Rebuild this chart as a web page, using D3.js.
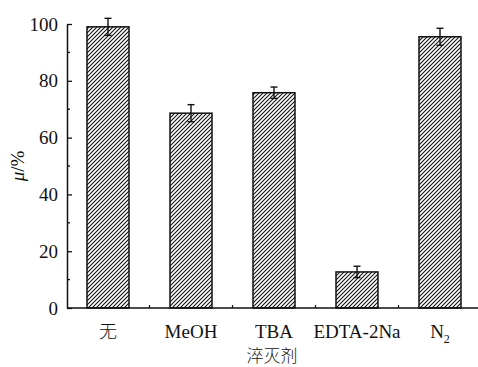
<!DOCTYPE html>
<html>
<head>
<meta charset="utf-8">
<script src="https://cdn.jsdelivr.net/npm/d3@7"></script>
<style>
  html, body { margin: 0; padding: 0; background: #fff; }
  svg { display: block; }
</style>
</head>
<body>
<svg id="chart" width="478" height="367"></svg>
<script>
// Quenching experiment: removal efficiency with each scavenger
const categories = ["无", "MeOH", "TBA", "EDTA-2Na", "N2"];
const values = [99, 68.6, 75.8, 12.7, 95.5];
const errors = [3, 3, 2, 2, 3];
const majorTicks = [0, 20, 40, 60, 80, 100];
const minorTicks = [10, 30, 50, 70, 90];
const xTitle = "淬灭剂";

const SERIF = "Liberation Serif";
const CJK = "Noto Sans CJK SC";
const INK = "#111";

const W = 478, H = 367;
const margin = { left: 67, top: 24, bottom: 59 };
const svg = d3.select("#chart");

const x = d3.scaleBand()
  .domain(categories)
  .range([margin.left - 0.5, margin.left - 0.5 + 83 * categories.length])
  .paddingInner(0.494)
  .paddingOuter(0.247);

const y = d3.scaleLinear()
  .domain([0, 100])
  .range([H - margin.bottom, margin.top]);

// diagonal hatch fill for the bars
const defs = svg.append("defs");
const pat = defs.append("pattern")
  .attr("id", "hatch")
  .attr("patternUnits", "userSpaceOnUse")
  .attr("width", 4)
  .attr("height", 4);
pat.append("rect").attr("width", 4).attr("height", 4).attr("fill", "#fff");
pat.append("path")
  .attr("d", "M-1,1 L1,-1 M0,4 L4,0 M3,5 L5,3")
  .attr("stroke", INK)
  .attr("stroke-width", 1.1);

// bars
svg.append("g").selectAll("rect")
  .data(categories)
  .join("rect")
  .attr("x", d => x(d))
  .attr("width", x.bandwidth())
  .attr("y", (d, i) => y(values[i]))
  .attr("height", (d, i) => y(0) - y(values[i]))
  .attr("fill", "url(#hatch)")
  .attr("stroke", INK)
  .attr("stroke-width", 1.5);

// error bars
const eb = svg.append("g").attr("stroke", INK).attr("stroke-width", 1.4);
categories.forEach((c, i) => {
  const cx = x(c) + x.bandwidth() / 2;
  const top = y(values[i] + errors[i]);
  const bot = y(values[i] - errors[i]);
  eb.append("line").attr("x1", cx).attr("x2", cx).attr("y1", top).attr("y2", bot);
  eb.append("line").attr("x1", cx - 3.5).attr("x2", cx + 3.5).attr("y1", top).attr("y2", top);
  eb.append("line").attr("x1", cx - 3.5).attr("x2", cx + 3.5).attr("y1", bot).attr("y2", bot);
});

// y axis with inward ticks
const yAxis = svg.append("g")
  .attr("transform", `translate(${margin.left},0)`)
  .call(d3.axisLeft(y).tickValues(majorTicks).tickSizeInner(-5).tickSizeOuter(0).tickPadding(9));
yAxis.selectAll(".tick text")
  .style("font-family", SERIF)
  .style("font-size", "19px")
  .attr("fill", INK);
yAxis.select(".domain").attr("stroke", INK).attr("stroke-width", 1.5);
yAxis.selectAll(".tick line").attr("stroke", INK).attr("stroke-width", 1.3);
svg.append("g")
  .attr("transform", `translate(${margin.left},0)`)
  .selectAll("line")
  .data(minorTicks)
  .join("line")
  .attr("x1", 0).attr("x2", 3)
  .attr("y1", d => y(d)).attr("y2", d => y(d))
  .attr("stroke", INK).attr("stroke-width", 1.3);

// x axis: baseline and small ticks between categories
const xAxisG = svg.append("g").attr("transform", `translate(0,${y(0)})`);
xAxisG.append("line")
  .attr("x1", margin.left).attr("x2", x.range()[1])
  .attr("stroke", INK).attr("stroke-width", 1.5);
xAxisG.selectAll("line.sep")
  .data(categories.slice(1))
  .join("line")
  .attr("class", "sep")
  .attr("x1", d => x(d) - x.step() * x.paddingInner() / 2)
  .attr("x2", d => x(d) - x.step() * x.paddingInner() / 2)
  .attr("y1", 0).attr("y2", -3)
  .attr("stroke", INK).attr("stroke-width", 1.2);

// category labels
categories.forEach(c => {
  const cx = x(c) + x.bandwidth() / 2;
  const t = svg.append("text")
    .attr("x", cx).attr("y", 338)
    .attr("text-anchor", "middle")
    .attr("fill", INK)
    .style("font-family", SERIF)
    .style("font-size", "19px");
  if (c === "N2") {
    t.append("tspan").text("N");
    t.append("tspan").style("font-size", "12px").attr("dy", 5).text("2");
  } else if (c === "无") {
    t.style("font-family", CJK).style("font-size", "18px").style("font-weight", 300).text(c);
  } else {
    t.text(c);
  }
});

// axis titles
svg.append("text")
  .attr("x", 272).attr("y", 362)
  .attr("text-anchor", "middle")
  .attr("fill", INK)
  .style("font-family", CJK)
  .style("font-weight", 300)
  .style("font-size", "17px")
  .text(xTitle);

const yt = svg.append("text")
  .attr("transform", "translate(24,166) rotate(-90)")
  .attr("text-anchor", "middle")
  .attr("fill", INK)
  .style("font-family", SERIF)
  .style("font-size", "19px");
yt.append("tspan").style("font-style", "italic").text("μ");
yt.append("tspan").text("/%");
</script>
</body>
</html>
